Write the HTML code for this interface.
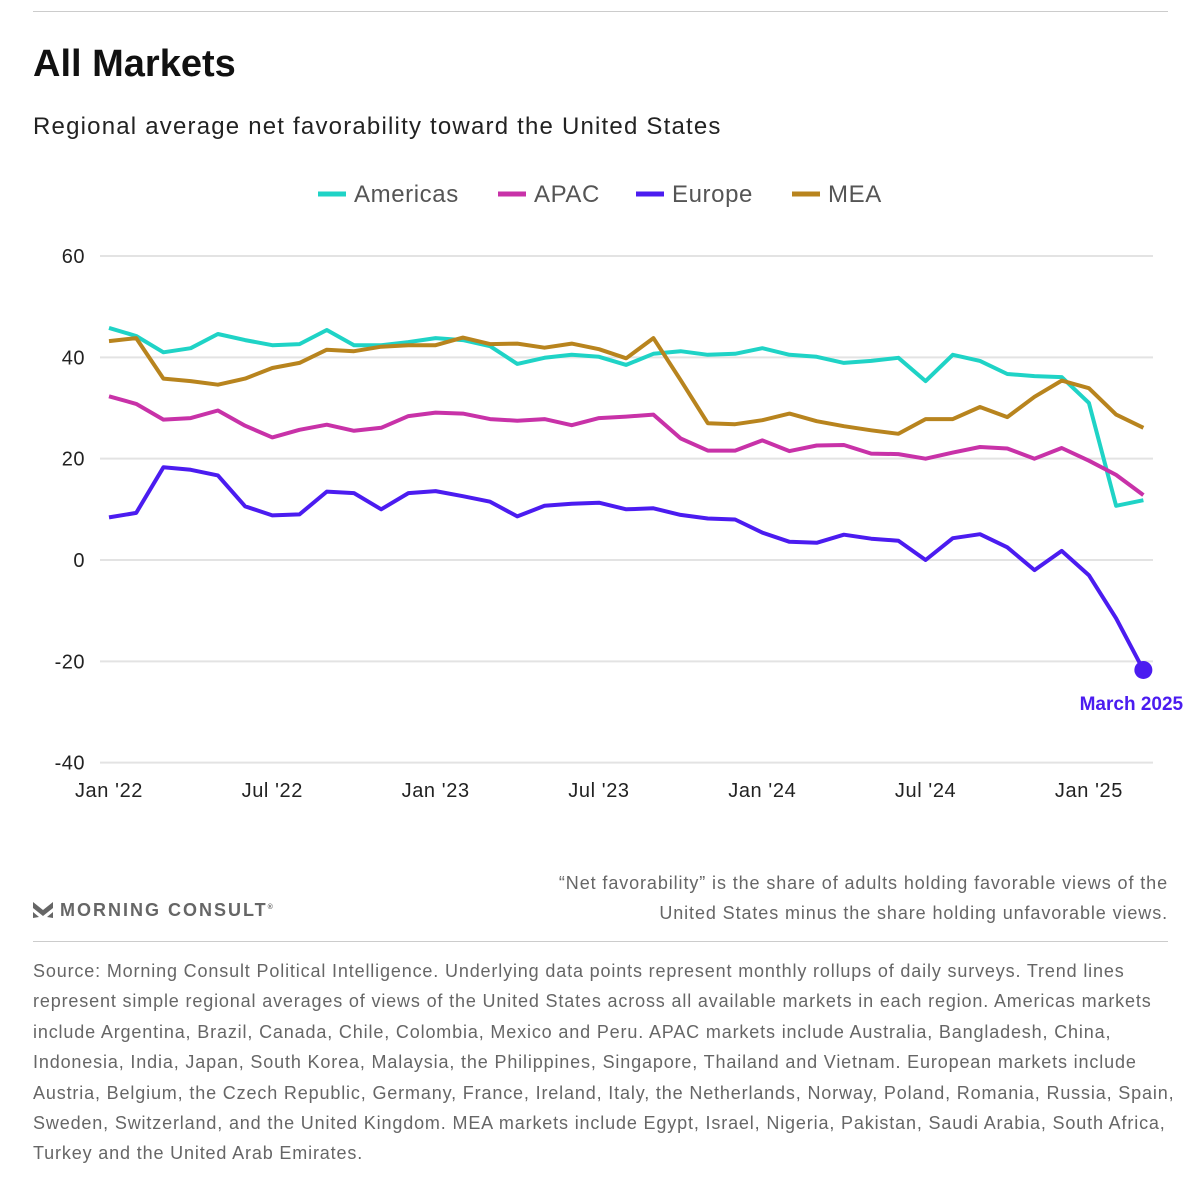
<!DOCTYPE html>
<html><head><meta charset="utf-8"><style>
body{margin:0;background:#fff;font-family:"Liberation Sans",sans-serif;}
#wrap{position:relative;width:1200px;height:1185px;overflow:hidden;}
.abs{position:absolute;}
</style></head><body>
<div id="wrap">
<div class="abs" style="left:33px;top:11px;width:1135px;height:1px;background:#ccc"></div>
<div class="abs" style="left:33px;top:43px;font-size:38px;font-weight:bold;color:#111">All Markets</div>
<div class="abs" style="left:33px;top:113px;font-size:24px;letter-spacing:1.2px;color:#222">Regional average net favorability toward the United States</div>
<svg class="abs" style="left:0;top:0" width="1200" height="860" id="chart"></svg>
<svg class="abs" style="left:33px;top:900px" width="20" height="20"><path d="M0 2 L10 10 L20 2 L20 8 L10 16 L0 8Z M0 12 L6 17 L0 18Z M20 12 L14 17 L20 18Z" fill="#666"/></svg>
<div class="abs" style="left:60px;top:900px;font-size:18px;font-weight:bold;letter-spacing:2px;color:#666">MORNING CONSULT<sup style="font-size:7px">®</sup></div>
<div class="abs" style="right:32px;top:868px;font-size:18px;letter-spacing:0.9px;line-height:30px;color:#666;text-align:right">“Net favorability” is the share of adults holding favorable views of the<br>United States minus the share holding unfavorable views.</div>
<div class="abs" style="left:33px;top:941px;width:1135px;height:1px;background:#ccc"></div>
<div class="abs" style="left:33px;top:956px;width:1145px;font-size:18px;letter-spacing:0.85px;line-height:30.4px;color:#666">Source: Morning Consult Political Intelligence. Underlying data points represent monthly rollups of daily surveys. Trend lines represent simple regional averages of views of the United States across all available markets in each region. Americas markets include Argentina, Brazil, Canada, Chile, Colombia, Mexico and Peru. APAC markets include Australia, Bangladesh, China, Indonesia, India, Japan, South Korea, Malaysia, the Philippines, Singapore, Thailand and Vietnam. European markets include Austria, Belgium, the Czech Republic, Germany, France, Ireland, Italy, the Netherlands, Norway, Poland, Romania, Russia, Spain, Sweden, Switzerland, and the United Kingdom. MEA markets include Egypt, Israel, Nigeria, Pakistan, Saudi Arabia, South Africa, Turkey and the United Arab Emirates.</div>
</div>
<script>
const yTicks=[60,40,20,0,-20,-40];
const xTickLabels=["Jan '22","Jul '22","Jan '23","Jul '23","Jan '24","Jul '24","Jan '25"];
const xTickIndex=[0,6,12,18,24,30,36];
const seriesNames=["Americas","APAC","Europe","MEA"];
const seriesColors=["#1fd3c6","#c832a8","#4b1cf0","#b8841e"];
const americas=[45.8,44.2,41,41.8,44.6,43.4,42.4,42.6,45.4,42.4,42.4,43,43.8,43.4,42.2,38.7,39.9,40.5,40.1,38.5,40.7,41.2,40.5,40.7,41.8,40.5,40.1,38.9,39.3,39.9,35.3,40.5,39.3,36.7,36.3,36.1,31,10.7,11.8];
const apac=[32.3,30.8,27.7,28,29.5,26.5,24.2,25.7,26.7,25.5,26.1,28.4,29.1,28.9,27.8,27.5,27.8,26.6,28,28.3,28.7,24,21.6,21.6,23.6,21.5,22.6,22.7,21,20.9,20,21.2,22.3,22,20,22.1,19.6,16.8,12.8];
const europe=[8.4,9.3,18.3,17.8,16.7,10.6,8.8,9,13.5,13.2,10,13.2,13.6,12.6,11.5,8.6,10.7,11.1,11.3,10,10.2,8.9,8.2,8,5.4,3.6,3.4,5,4.2,3.8,0,4.3,5.1,2.5,-2,1.8,-3,-11.5,-21.7];
const mea=[43.2,43.8,35.8,35.3,34.6,35.8,37.9,38.9,41.5,41.2,42.1,42.4,42.4,43.9,42.6,42.7,41.9,42.7,41.6,39.8,43.8,35.5,27,26.8,27.6,28.9,27.4,26.4,25.6,24.9,27.8,27.8,30.2,28.2,32.2,35.4,33.9,28.7,26.1];
const seriesData=[americas,apac,europe,mea];
const svg=document.getElementById('chart');
const NS='http://www.w3.org/2000/svg';
const x=i=>109+i*27.22;
const y=v=>560-v*5.067;
function mk(t,a){const e=document.createElementNS(NS,t);for(const k in a)e.setAttribute(k,a[k]);svg.appendChild(e);return e;}
yTicks.forEach(t=>{
 const l=mk('line',{x1:100,x2:1153,y1:y(t),y2:y(t),stroke:'#e3e3e3','stroke-width':2});
 
 
 const tx=mk('text',{x:85,y:y(t)+7,'text-anchor':'end','font-size':20,'letter-spacing':0.5,fill:'#222'});
 tx.textContent=t;
 
 
});
xTickLabels.forEach((lab,k)=>{
 const tx=mk('text',{x:x(xTickIndex[k]),y:797,'text-anchor':'middle','font-size':20,'letter-spacing':0.6,fill:'#222'});
 tx.textContent=lab;
 
 
});
const order=[0,1,3,2];
order.forEach(s=>{
 const d=seriesData[s].map((v,i)=>(i?'L':'M')+x(i).toFixed(1)+' '+y(v).toFixed(1)).join(' ');
 const p=mk('path',{d:d,fill:'none',stroke:seriesColors[s],'stroke-width':4,'stroke-linejoin':'round'});
 
 
});
const li=europe.length-1;
const dot=mk('circle',{cx:x(li),cy:y(europe[li]),r:9,fill:'#4b1cf0'});


const ann=mk('text',{x:x(li)-12,y:y(europe[li])+40,'text-anchor':'middle','font-size':19,'font-weight':'bold',fill:'#4b1cf0'});
ann.textContent='March 2025';


const legX=[318,498,636,792];
seriesNames.forEach((n,s)=>{
 const l=mk('line',{x1:legX[s],x2:legX[s]+28,y1:194,y2:194,stroke:seriesColors[s],'stroke-width':5});
 
 
 const t=mk('text',{x:legX[s]+36,y:202,'font-size':24,'letter-spacing':0.6,fill:'#555'});
 t.textContent=n;
 
 
});
</script>
</body></html>
